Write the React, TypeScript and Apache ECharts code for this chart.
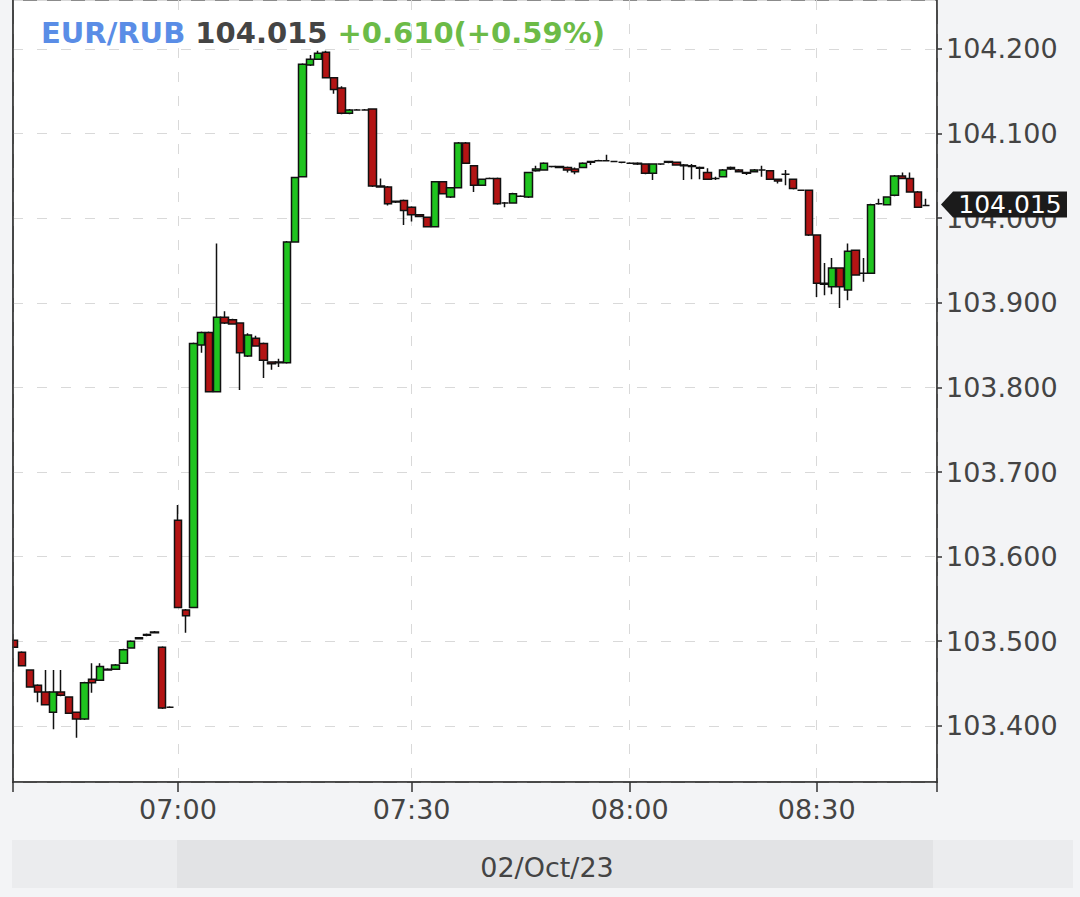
import React, { useEffect, useRef } from "react";
import * as echarts from "echarts";

// [time, open, close, low, high]
const candles0639: [string, number, number, number, number][] = [
  ["06:39", 103.501, 103.493, 103.492, 103.502],
  ["06:40", 103.487, 103.471, 103.47, 103.488],
  ["06:41", 103.466, 103.446, 103.445, 103.467],
  ["06:42", 103.448, 103.44, 103.428, 103.449],
  ["06:43", 103.44, 103.425, 103.424, 103.466],
  ["06:44", 103.416, 103.44, 103.396, 103.466],
  ["06:45", 103.44, 103.436, 103.435, 103.466],
  ["06:46", 103.434, 103.415, 103.414, 103.435],
  ["06:47", 103.416, 103.408, 103.386, 103.417],
  ["06:48", 103.408, 103.451, 103.407, 103.452],
  ["06:49", 103.455, 103.451, 103.439, 103.474],
  ["06:50", 103.454, 103.47, 103.453, 103.474],
  ["06:51", 103.466, 103.467, 103.465, 103.468],
  ["06:52", 103.467, 103.472, 103.466, 103.473],
  ["06:53", 103.474, 103.49, 103.473, 103.491],
  ["06:54", 103.492, 103.5, 103.491, 103.501],
  ["06:55", 103.503, 103.504, 103.502, 103.505],
  ["06:56", 103.507, 103.508, 103.506, 103.509],
  ["06:57", 103.51, 103.511, 103.509, 103.512],
  ["06:58", 103.493, 103.421, 103.42, 103.494],
  ["06:59", 103.422, 103.422, 103.421, 103.423],
];

const candles0700: [string, number, number, number, number][] = [
  ["07:00", 103.643, 103.54, 103.539, 103.661],
  ["07:01", 103.537, 103.53, 103.51, 103.538],
  ["07:02", 103.54, 103.852, 103.539, 103.853],
  ["07:03", 103.85, 103.865, 103.841, 103.866],
  ["07:04", 103.865, 103.795, 103.794, 103.866],
  ["07:05", 103.795, 103.883, 103.794, 103.97],
  ["07:06", 103.883, 103.876, 103.875, 103.89],
  ["07:07", 103.88, 103.875, 103.874, 103.881],
  ["07:08", 103.876, 103.841, 103.797, 103.877],
  ["07:09", 103.837, 103.862, 103.836, 103.864],
  ["07:10", 103.858, 103.849, 103.848, 103.861],
  ["07:11", 103.852, 103.832, 103.811, 103.853],
  ["07:12", 103.83, 103.828, 103.821, 103.831],
  ["07:13", 103.829, 103.83, 103.824, 103.834],
  ["07:14", 103.829, 103.972, 103.828, 103.973],
  ["07:15", 103.972, 104.048, 103.971, 104.049],
  ["07:16", 104.049, 104.182, 104.048, 104.183],
  ["07:17", 104.181, 104.188, 104.18, 104.193],
  ["07:18", 104.188, 104.195, 104.187, 104.198],
  ["07:19", 104.196, 104.166, 104.165, 104.198],
  ["07:20", 104.166, 104.152, 104.147, 104.167],
  ["07:21", 104.154, 104.124, 104.123, 104.156],
  ["07:22", 104.124, 104.128, 104.123, 104.129],
  ["07:23", 104.128, 104.128, 104.127, 104.129],
  ["07:24", 104.128, 104.128, 104.127, 104.129],
  ["07:25", 104.129, 104.038, 104.037, 104.13],
  ["07:26", 104.038, 104.037, 104.036, 104.047],
  ["07:27", 104.037, 104.017, 104.015, 104.038],
  ["07:28", 104.019, 104.02, 104.018, 104.021],
  ["07:29", 104.021, 104.009, 103.992, 104.022],
];

const candles0730: [string, number, number, number, number][] = [
  ["07:30", 104.013, 104.004, 103.996, 104.014],
  ["07:31", 104.004, 104.002, 104.001, 104.005],
  ["07:32", 104.001, 103.99, 103.989, 104.002],
  ["07:33", 103.99, 104.043, 103.989, 104.044],
  ["07:34", 104.043, 104.029, 104.028, 104.044],
  ["07:35", 104.025, 104.036, 104.024, 104.037],
  ["07:36", 104.036, 104.089, 104.035, 104.09],
  ["07:37", 104.089, 104.065, 104.064, 104.09],
  ["07:38", 104.062, 104.039, 104.031, 104.063],
  ["07:39", 104.039, 104.046, 104.038, 104.047],
  ["07:40", 104.047, 104.047, 104.046, 104.048],
  ["07:41", 104.047, 104.017, 104.016, 104.048],
  ["07:42", 104.018, 104.018, 104.013, 104.019],
  ["07:43", 104.018, 104.029, 104.017, 104.03],
  ["07:45", 104.026, 104.026, 104.025, 104.027],
  ["07:46", 104.025, 104.054, 104.024, 104.055],
  ["07:47", 104.056, 104.058, 104.055, 104.062],
  ["07:48", 104.057, 104.065, 104.056, 104.066],
  ["07:49", 104.061, 104.061, 104.06, 104.062],
  ["07:50", 104.061, 104.06, 104.059, 104.062],
  ["07:51", 104.06, 104.057, 104.054, 104.061],
  ["07:52", 104.058, 104.055, 104.052, 104.06],
  ["07:54", 104.06, 104.065, 104.059, 104.066],
  ["07:55", 104.067, 104.066, 104.063, 104.068],
  ["07:56", 104.068, 104.068, 104.067, 104.069],
  ["07:57", 104.068, 104.068, 104.067, 104.075],
  ["07:58", 104.067, 104.067, 104.066, 104.068],
  ["07:59", 104.066, 104.066, 104.065, 104.067],
];

const candles0800: [string, number, number, number, number][] = [
  ["08:00", 104.065, 104.065, 104.064, 104.066],
  ["08:01", 104.065, 104.064, 104.063, 104.066],
  ["08:02", 104.064, 104.053, 104.052, 104.065],
  ["08:03", 104.053, 104.064, 104.045, 104.065],
  ["08:04", 104.064, 104.064, 104.063, 104.065],
  ["08:06", 104.066, 104.067, 104.065, 104.068],
  ["08:07", 104.066, 104.063, 104.062, 104.067],
  ["08:08", 104.063, 104.062, 104.045, 104.064],
  ["08:10", 104.062, 104.061, 104.046, 104.064],
  ["08:11", 104.06, 104.059, 104.046, 104.061],
  ["08:12", 104.054, 104.046, 104.045, 104.059],
  ["08:14", 104.047, 104.047, 104.045, 104.049],
  ["08:15", 104.049, 104.057, 104.048, 104.058],
  ["08:16", 104.06, 104.058, 104.057, 104.061],
  ["08:18", 104.057, 104.055, 104.054, 104.058],
  ["08:19", 104.054, 104.053, 104.051, 104.055],
  ["08:20", 104.055, 104.057, 104.054, 104.058],
  ["08:22", 104.057, 104.057, 104.049, 104.062],
  ["08:23", 104.056, 104.046, 104.045, 104.057],
  ["08:24", 104.046, 104.044, 104.041, 104.047],
  ["08:26", 104.052, 104.052, 104.039, 104.057],
  ["08:27", 104.046, 104.035, 104.034, 104.047],
  ["08:28", 104.033, 104.033, 104.032, 104.034],
  ["08:29", 104.033, 103.98, 103.979, 104.034],
];

const candles0830: [string, number, number, number, number][] = [
  ["08:30", 103.98, 103.923, 103.907, 103.981],
  ["08:31", 103.923, 103.922, 103.909, 103.947],
  ["08:32", 103.919, 103.941, 103.91, 103.953],
  ["08:33", 103.941, 103.919, 103.894, 103.942],
  ["08:34", 103.915, 103.961, 103.903, 103.97],
  ["08:35", 103.962, 103.933, 103.932, 103.963],
  ["08:36", 103.935, 103.935, 103.925, 103.953],
  ["08:37", 103.935, 104.016, 103.934, 104.017],
  ["08:38", 104.017, 104.017, 104.016, 104.023],
  ["08:39", 104.016, 104.025, 104.015, 104.026],
  ["08:40", 104.027, 104.05, 104.026, 104.051],
  ["08:41", 104.05, 104.047, 104.046, 104.054],
  ["08:42", 104.047, 104.031, 104.03, 104.054],
  ["08:43", 104.031, 104.013, 104.012, 104.032],
  ["08:44", 104.015, 104.015, 104.014, 104.023],
];

const xTickTimes = ["07:00", "07:30", "08:00", "08:30"];
const pairName = "EUR/RUB";
const lastPrice = 104.015;
const changeText = "+0.610(+0.59%)";
const dateLabel = "02/Oct/23";

const candles = [...candles0639, ...candles0700, ...candles0730, ...candles0800, ...candles0830];
const candleTimes = candles.map((c) => c[0]);
const tickIdx = xTickTimes.map((t) => candleTimes.indexOf(t));

const X_MIN = -0.17;
const X_MAX = 118.45;
const Y_MIN = 103.3336;
const Y_MAX = 104.2579;
const FONT = "'DejaVu Sans', sans-serif";
const PAGE_BG = "#f3f4f6";

export default function App() {
  const ref = useRef<HTMLDivElement>(null);
  useEffect(() => {
    if (!ref.current) return;
    const chart = echarts.init(ref.current, undefined, { renderer: "svg" });
    const dashed = { color: "#d9d9d9", width: 1, type: [10, 14] as any };
    chart.setOption({
      animation: false,
      backgroundColor: PAGE_BG,
      title: {
        left: 41,
        top: 16,
        padding: 0,
        text: `{a|${pairName}} {b|${lastPrice.toFixed(3)}} {c|${changeText}}`,
        textStyle: {
          fontSize: 29,
          fontWeight: "bold",
          fontFamily: FONT,
          lineHeight: 34,
          color: "#444",
          rich: {
            a: { color: "#5a8de6", fontSize: 29, fontWeight: "bold", fontFamily: FONT },
            b: { color: "#444444", fontSize: 29, fontWeight: "bold", fontFamily: FONT },
            c: { color: "#6cbb47", fontSize: 29, fontWeight: "bold", fontFamily: FONT },
          },
        },
      },
      grid: {
        left: 13,
        right: 143,
        top: 0,
        bottom: 115,
        show: true,
        backgroundColor: "#ffffff",
        borderColor: "#666",
        borderWidth: 1.5,
        outerBoundsMode: "none",
        containLabel: false,
      },
      xAxis: {
        type: "value",
        min: X_MIN,
        max: X_MAX,
        axisLine: { show: true, onZero: false, lineStyle: { color: "#333", width: 1.5 } },
        axisTick: {
          show: true,
          length: 10,
          lineStyle: { color: "#333", width: 1.5 },
          customValues: [X_MIN, ...tickIdx, X_MAX],
        },
        axisLabel: {
          customValues: tickIdx,
          formatter: (v: number) => candleTimes[Math.round(v)] ?? "",
          fontSize: 27,
          fontFamily: FONT,
          color: "#444",
          margin: 14,
        },
        splitLine: { show: true, lineStyle: dashed },
      },
      yAxis: {
        type: "value",
        position: "right",
        min: Y_MIN,
        max: Y_MAX,
        splitNumber: 10,
        axisLine: { show: true, onZero: false, lineStyle: { color: "#333", width: 1.5 } },
        axisTick: { show: true, length: 5, lineStyle: { color: "#333", width: 1.5 } },
        axisLabel: {
          formatter: (v: number) => v.toFixed(3),
          showMinLabel: false,
          showMaxLabel: false,
          fontSize: 27,
          fontFamily: FONT,
          color: "#444",
          margin: 9,
        },
        splitLine: { show: true, lineStyle: dashed },
      },
      series: [
        {
          type: "candlestick",
          clip: true,
          barWidth: 7.8,
          encode: { x: 0, y: [1, 2, 3, 4] },
          data: candles.map((c, i) => [i, c[1], c[2], c[3], c[4]]),
          itemStyle: {
            color: "#1fc41f",
            color0: "#b31414",
            borderColor: "#111",
            borderColor0: "#111",
            borderColorDoji: "#111",
            borderWidth: 1.5,
          },
          markPoint: {
            silent: true,
            symbol: "path://M0,13L12,0L126,0L126,26L12,26Z",
            symbolSize: [126, 26],
            symbolKeepAspect: false,
            symbolOffset: [67, -1],
            itemStyle: { color: "#1b1b1b" },
            label: {
              show: true,
              position: "inside",
              offset: [6, 0],
              color: "#ffffff",
              fontSize: 25,
              fontFamily: FONT,
              formatter: () => lastPrice.toFixed(3),
            },
            data: [{ coord: [X_MAX, lastPrice], value: lastPrice }],
          },
        },
      ],
      graphic: [
        {
          type: "rect",
          silent: true,
          z: 100,
          shape: { x: 0, y: 0, width: 12.2, height: 781 },
          style: { fill: PAGE_BG },
        },
        {
          type: "line",
          silent: true,
          z: 101,
          shape: { x1: 13, y1: 0, x2: 13, y2: 783 },
          style: { stroke: "#333", lineWidth: 1.6 },
        },
        { type: "rect", silent: true, shape: { x: 12, y: 840, width: 1061, height: 48 }, style: { fill: "#ebecee" } },
        { type: "rect", silent: true, shape: { x: 177, y: 840, width: 756, height: 48 }, style: { fill: "#e2e3e5" } },
        {
          type: "text",
          silent: true,
          x: 547,
          y: 867,
          style: { text: dateLabel, fontSize: 27, fontFamily: FONT, fill: "#444", align: "center", verticalAlign: "middle" },
        },
      ],
    });
    return () => chart.dispose();
  }, []);
  return <div ref={ref} style={{ position: "fixed", left: 0, top: 0, width: 1080, height: 897 }} />;
}
